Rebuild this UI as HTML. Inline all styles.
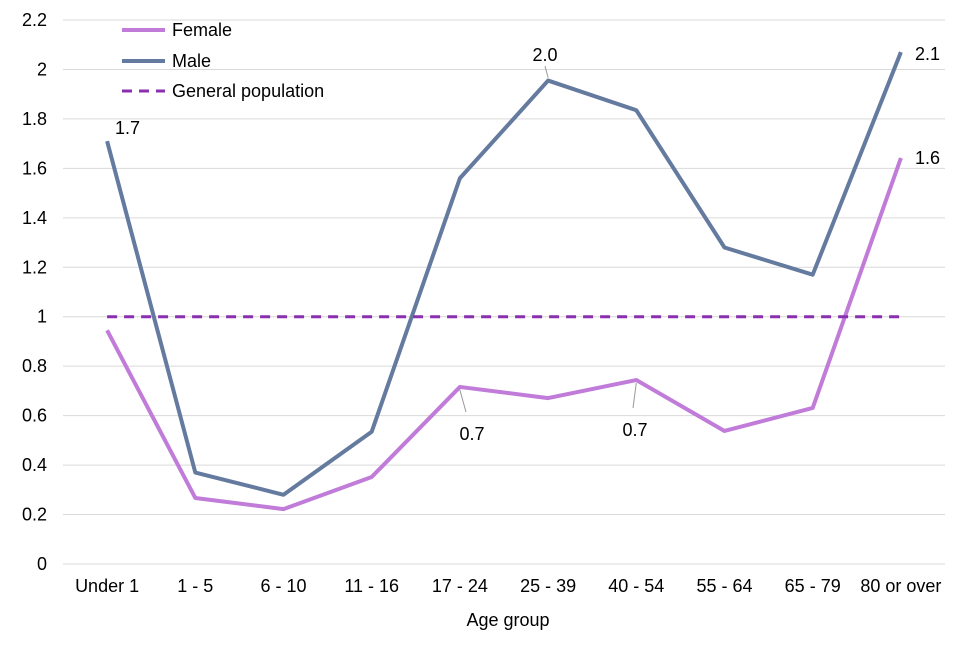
<!DOCTYPE html>
<html><head><meta charset="utf-8"><style>
body{margin:0;background:#fff;font-family:"Liberation Sans",Arial,sans-serif}
svg text{font-family:"Liberation Sans",Arial,sans-serif;fill:#000}
</style></head><body>
<svg id="chart" width="960" height="640" viewBox="0 0 960 640" xmlns="http://www.w3.org/2000/svg"></svg>
<script>
const categories=["Under 1","1 - 5","6 - 10","11 - 16","17 - 24","25 - 39","40 - 54","55 - 64","65 - 79","80 or over"];
const maleValues=[1.71,0.37,0.28,0.535,1.56,1.955,1.835,1.28,1.17,2.07];
const femaleValues=[0.945,0.267,0.222,0.352,0.716,0.671,0.744,0.538,0.631,1.642];
const generalValues=[1,1,1,1,1,1,1,1,1,1];
const yTicks=["0","0.2","0.4","0.6","0.8","1","1.2","1.4","1.6","1.8","2","2.2"];
const yTickValues=[0,0.2,0.4,0.6,0.8,1,1.2,1.4,1.6,1.8,2,2.2];

const svgEl=document.getElementById('chart');
const NS="http://www.w3.org/2000/svg";
const plotLeft=63,plotRight=945,plotTop=20,plotBottom=564,yMax=2.2;
const step=(plotRight-plotLeft)/categories.length;
function xs(i){return plotLeft+step*(i+0.5);}
function ys(v){return plotBottom-(v/yMax)*(plotBottom-plotTop);}
function mk(tag,attrs){const e=document.createElementNS(NS,tag);for(const k in attrs)e.setAttribute(k,attrs[k]);svgEl.appendChild(e);return e;}

yTickValues.forEach((v,i)=>{
  const g=mk('line',{x1:plotLeft,x2:plotRight,y1:ys(v),y2:ys(v),stroke:'#d9d9d9','stroke-width':1});
  
  
  const t=mk('text',{x:47,y:ys(v)+6,'text-anchor':'end','font-size':18});
  t.textContent=yTicks[i];
  
  
});
categories.forEach((c,i)=>{
  const t=mk('text',{x:xs(i),y:592,'text-anchor':'middle','font-size':18});
  t.textContent=c;
  
  
});
const xt=mk('text',{x:508,y:626,'text-anchor':'middle','font-size':18});
xt.textContent="Age group";



function series(vals,color,name,dash){
  const p=mk('polyline',{points:vals.map((v,i)=>xs(i)+','+ys(v)).join(' '),fill:'none',stroke:color,'stroke-width':dash?3:4,'stroke-linejoin':'round'});
  if(dash)p.setAttribute('stroke-dasharray','10,7');
  
  
}
series(femaleValues,'#c17bd9','female-line');
series(maleValues,'#647a9e','male-line');
series(generalValues,'#8a2fb0','general-population-line',true);

function leader(lx,ly,px,py){
  const l=mk('line',{x1:lx,y1:ly,x2:px,y2:py,stroke:'#999','stroke-width':1});
  
  
}
function dl(txt,tx,ty,anchor){const t=mk('text',{x:tx,y:ty,'font-size':18,'text-anchor':anchor||'start'});t.textContent=txt;
  
  }
dl(maleValues[0].toFixed(1),115,134);
leader(545,66,xs(5),ys(maleValues[5])-3);
dl(maleValues[5].toFixed(1),545,61,'middle');
dl(maleValues[9].toFixed(1),915,60);
dl(femaleValues[9].toFixed(1),915,164);
leader(466,412,xs(4),ys(femaleValues[4])+3);
dl(femaleValues[4].toFixed(1),472,440,'middle');
leader(633,408,xs(6),ys(femaleValues[6])+3);
dl(femaleValues[6].toFixed(1),635,436,'middle');

const leg=[["Female","#c17bd9",false,30],["Male","#647a9e",false,61],["General population","#8a2fb0",true,91]];
leg.forEach(([n,c,d,ly])=>{
  const l=mk('line',{x1:122,x2:165,y1:ly,y2:ly,stroke:c,'stroke-width':d?3:4});
  if(d)l.setAttribute('stroke-dasharray','10,7');
  
  
  const t=mk('text',{x:172,y:ly+6,'font-size':18});t.textContent=n;
  
  
});
</script>
</body></html>
